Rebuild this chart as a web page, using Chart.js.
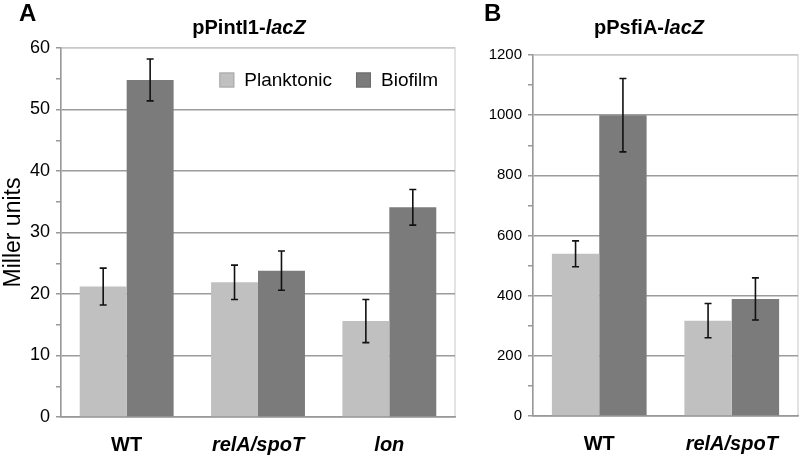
<!DOCTYPE html>
<html>
<head>
<meta charset="utf-8">
<script src="https://cdn.jsdelivr.net/npm/chart.js@4/dist/chart.umd.min.js"></script>
<style>
  body { margin: 0; background: #fff; font-family: "Liberation Sans", Arial, sans-serif; }
  #wrap { position: relative; width: 800px; height: 456px; overflow: hidden; }
  .panel { position: absolute; top: 0; height: 456px; }
  .letter { position: absolute; top: -1px; font-weight: bold; font-size: 24px; }
  .title { position: absolute; top: 16px; font-weight: bold; font-size: 20px; transform: translateX(-50%); white-space: nowrap; }
</style>
</head>
<body>
<div id="wrap">
  <div class="panel" style="left:0;width:460px"><canvas id="chartA"></canvas></div>
  <div class="panel" style="left:465px;width:335px"><canvas id="chartB"></canvas></div>
  <div class="letter" style="left:19px">A</div>
  <div class="letter" style="left:484px">B</div>
  <div class="title" style="left:249px">pPintI1-<i>lacZ</i></div>
  <div class="title" style="left:649px">pPsfiA-<i>lacZ</i></div>
</div>
<script>
// Panel A: pPintI1-lacZ
const categoriesA = ['WT', 'relA/spoT', 'lon'];
const planktonicA = [21.2, 21.9, 15.6];
const planktonicErrA = [3.0, 2.8, 3.5];
const biofilmA = [54.8, 23.8, 34.1];
const biofilmErrA = [3.4, 3.2, 2.9];
const yMaxA = 60, yMajorA = 10, yMinorA = 5;

// Panel B: pPsfiA-lacZ
const categoriesB = ['WT', 'relA/spoT'];
const planktonicB = [539, 317];
const planktonicErrB = [43, 57];
const biofilmB = [1000, 389];
const biofilmErrB = [122, 70];
const yMaxB = 1200, yMajorB = 200, yMinorB = 100;

const italicLabels = ['relA/spoT', 'lon'];
const seriesNames = ['Planktonic', 'Biofilm'];
const lightGray = '#c0c0c0';
const darkGray = '#7b7b7b';
const font = '"Liberation Sans", Arial, sans-serif';

// light frame around plot area
const framePlugin = {
    id: 'frame',
    beforeDraw(chart) {
        const a = chart.chartArea, ctx = chart.ctx;
        ctx.save();
        ctx.strokeStyle = '#dadada';
        ctx.lineWidth = 1.5;
        ctx.strokeRect(a.left, a.top, a.right - a.left, a.bottom - a.top);
        ctx.restore();
    }
};

// error bars from each dataset's errors array
const errorBarPlugin = {
    id: 'errorBars',
    afterDatasetsDraw(chart) {
        const ctx = chart.ctx, y = chart.scales.y;
        ctx.save();
        ctx.strokeStyle = '#111';
        ctx.lineWidth = 1.6;
        chart.data.datasets.forEach(function(ds, i) {
            chart.getDatasetMeta(i).data.forEach(function(bar, j) {
                const v = ds.data[j], e = ds.errors[j];
                const top = y.getPixelForValue(v + e), bot = y.getPixelForValue(v - e);
                ctx.beginPath();
                ctx.moveTo(bar.x, top); ctx.lineTo(bar.x, bot);
                ctx.moveTo(bar.x - 3.5, top); ctx.lineTo(bar.x + 3.5, top);
                ctx.moveTo(bar.x - 3.5, bot); ctx.lineTo(bar.x + 3.5, bot);
                ctx.stroke();
            });
        });
        ctx.restore();
    }
};

// legend inside the plot, top right
const insideLegendPlugin = {
    id: 'insideLegend',
    afterDraw(chart, args, opts) {
        if (!opts.show) return;
        const ctx = chart.ctx, a = chart.chartArea;
        ctx.save();
        ctx.font = '19px ' + font;
        ctx.textBaseline = 'middle';
        const cy = a.top + 32;
        let x = a.right - 17;
        const items = chart.data.datasets.slice().reverse();
        items.forEach(function(ds) {
            const w = ctx.measureText(ds.label).width;
            x -= w;
            ctx.fillStyle = '#000';
            ctx.fillText(ds.label, x, cy + 1);
            x -= 10 + 15;
            ctx.fillStyle = ds.backgroundColor;
            ctx.fillRect(x, cy - 7.5, 15, 15);
            ctx.strokeStyle = ds.backgroundColor === lightGray ? '#a8a8a8' : '#6a6a6a';
            ctx.lineWidth = 1;
            ctx.strokeRect(x + 0.5, cy - 7, 14, 14);
            x -= 24;
        });
        ctx.restore();
    }
};

function makeChart(id, labels, pData, pErr, bData, bErr, yMax, yMajor, yMinor, opts) {
    return new Chart(document.getElementById(id).getContext('2d'), {
        type: 'bar',
        data: {
            labels: labels,
            datasets: [
                { label: seriesNames[0], data: pData, errors: pErr, backgroundColor: lightGray,
                  categoryPercentage: 0.715, barPercentage: 1.0 },
                { label: seriesNames[1], data: bData, errors: bErr, backgroundColor: darkGray,
                  categoryPercentage: 0.715, barPercentage: 1.0 }
            ]
        },
        options: {
            responsive: true,
            maintainAspectRatio: false,
            animation: false,
            layout: { padding: opts.padding },
            plugins: {
                tooltip: { enabled: false },
                legend: { display: false },
                insideLegend: { show: opts.legend }
            },
            scales: {
                x: {
                    grid: { display: false },
                    border: { color: '#999', width: 1.5 },
                    ticks: {
                        color: '#000',
                        padding: 8,
                        font: function(ctx) {
                            const lab = labels[ctx.index];
                            return { family: font, size: 20, weight: 'bold',
                                     style: italicLabels.includes(lab) ? 'italic' : 'normal' };
                        }
                    },
                    afterFit: function(s) { s.height = opts.xHeight; }
                },
                y: {
                    min: 0,
                    max: yMax,
                    border: { color: '#999', width: 1.5 },
                    grid: {
                        lineWidth: 1.5,
                        tickLength: 5,
                        tickColor: '#999',
                        color: function(ctx) {
                            if (!ctx.tick) return 'transparent';
                            if (ctx.tick.value === yMax) return '#c8c8c8';
                            return ctx.tick.value % yMajor === 0 ? '#9c9c9c' : 'transparent';
                        }
                    },
                    ticks: {
                        stepSize: yMinor,
                        autoSkip: false,
                        color: '#000',
                        padding: opts.tickPad,
                        font: { family: font, size: opts.tickSize },
                        callback: function(v) { return v % yMajor === 0 ? v : ''; }
                    },
                    title: opts.yTitle,
                    afterFit: function(s) { s.width = opts.yWidth; }
                }
            }
        },
        plugins: [framePlugin, errorBarPlugin, insideLegendPlugin]
    });
}

makeChart('chartA', categoriesA, planktonicA, planktonicErrA, biofilmA, biofilmErrA,
    yMaxA, yMajorA, yMinorA, {
        padding: { top: 48, right: 5, bottom: 0, left: 0 },
        xHeight: 39,
        yWidth: 61,
        tickSize: 18,
        tickPad: 6,
        yTitle: { display: true, text: 'Miller units', color: '#000',
                  font: { family: font, size: 23 }, padding: 0 },
        legend: true
    });

makeChart('chartB', categoriesB, planktonicB, planktonicErrB, biofilmB, biofilmErrB,
    yMaxB, yMajorB, yMinorB, {
        padding: { top: 55, right: 2, bottom: 0, left: 0 },
        xHeight: 40,
        yWidth: 68,
        tickSize: 15,
        tickPad: 6,
        yTitle: { display: false },
        legend: false
    });
</script>
</body>
</html>
